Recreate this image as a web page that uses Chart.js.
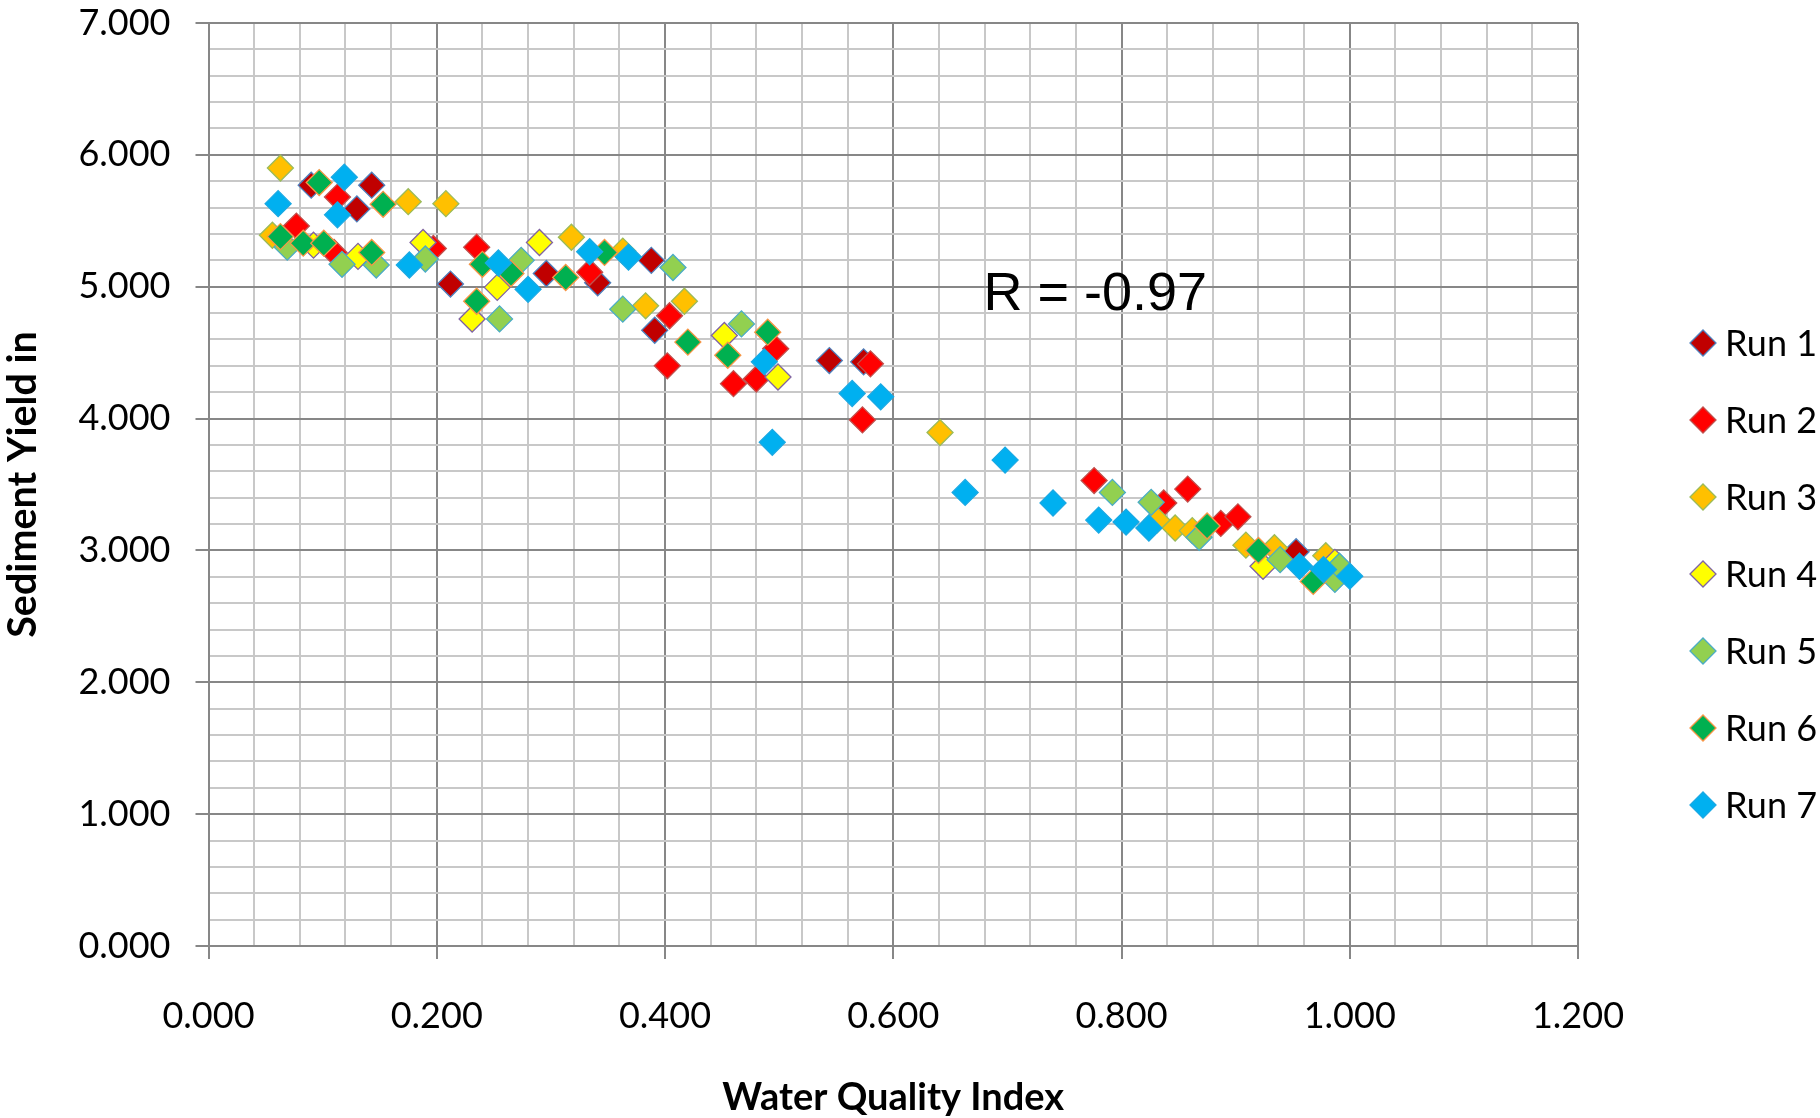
<!DOCTYPE html>
<html>
<head>
<meta charset="utf-8">
<title>Sediment Yield vs Water Quality Index</title>
<script src="https://cdn.jsdelivr.net/npm/chart.js@4.4.1/dist/chart.umd.min.js"></script>
<style>
  html, body { margin: 0; padding: 0; background: #ffffff; }
  #wrap { width: 1820px; height: 1118px; }
</style>
</head>
<body>
<div id="wrap"><canvas id="chart" width="1820" height="1118"></canvas></div>
<script>
// Series names
const runNames = ['Run 1', 'Run 2', 'Run 3', 'Run 4', 'Run 5', 'Run 6', 'Run 7'];

// Water Quality Index (x) and Sediment Yield (y) per run
const run1X = [0.090, 0.130, 0.143, 0.212, 0.296, 0.341, 0.388, 0.391, 0.544, 0.574, 0.953];
const run1Y = [5.77, 5.59, 5.77, 5.02, 5.10, 5.03, 5.20, 4.67, 4.44, 4.43, 2.99];

const run2X = [0.077, 0.110, 0.113, 0.197, 0.235, 0.334, 0.402, 0.404, 0.460, 0.480, 0.497, 0.573, 0.580, 0.776, 0.837, 0.858, 0.887, 0.902];
const run2Y = [5.46, 5.26, 5.68, 5.29, 5.30, 5.11, 4.40, 4.78, 4.265, 4.30, 4.53, 3.99, 4.415, 3.53, 3.36, 3.465, 3.205, 3.255];

const run3X = [0.056, 0.063, 0.175, 0.208, 0.318, 0.363, 0.383, 0.417, 0.641, 0.831, 0.847, 0.862, 0.909, 0.934, 0.979];
const run3Y = [5.39, 5.90, 5.645, 5.63, 5.375, 5.27, 4.855, 4.89, 3.894, 3.23, 3.17, 3.15, 3.04, 3.02, 2.96];

const run4X = [0.092, 0.131, 0.188, 0.231, 0.253, 0.290, 0.452, 0.499, 0.924, 0.987];
const run4Y = [5.315, 5.23, 5.335, 4.755, 4.995, 5.335, 4.63, 4.315, 2.88, 2.91];

const run5X = [0.069, 0.117, 0.147, 0.190, 0.255, 0.274, 0.363, 0.407, 0.467, 0.792, 0.826, 0.868, 0.939, 0.987, 0.991];
const run5Y = [5.30, 5.17, 5.165, 5.21, 4.756, 5.20, 4.83, 5.146, 4.718, 3.44, 3.365, 3.10, 2.93, 2.78, 2.88];

const run6X = [0.063, 0.083, 0.097, 0.101, 0.143, 0.153, 0.235, 0.240, 0.265, 0.313, 0.347, 0.420, 0.455, 0.490, 0.875, 0.920, 0.968];
const run6Y = [5.38, 5.33, 5.79, 5.33, 5.26, 5.625, 4.89, 5.17, 5.10, 5.07, 5.26, 4.58, 4.48, 4.655, 3.185, 3.00, 2.765];

const run7X = [0.061, 0.113, 0.119, 0.176, 0.254, 0.280, 0.334, 0.368, 0.487, 0.494, 0.564, 0.589, 0.663, 0.698, 0.740, 0.780, 0.804, 0.824, 0.956, 0.977, 1.000];
const run7Y = [5.63, 5.545, 5.83, 5.165, 5.18, 4.98, 5.265, 5.225, 4.43, 3.82, 4.19, 4.165, 3.44, 3.685, 3.36, 3.23, 3.215, 3.17, 2.88, 2.855, 2.805];

// Axis settings and annotation
const xAxisTitle = 'Water Quality Index';
const yAxisTitle = 'Sediment Yield in';
const xMin = 0, xMax = 1.2, xMinorStep = 0.04, xMajorStep = 0.2;
const yMin = 0, yMax = 7, yMinorStep = 0.2, yMajorStep = 1;
const correlationText = 'R = -0.97';
const correlationAt = { x: 0.679, y: 4.82 };

// Marker styling
const fillColors = ['#C00000', '#FF0000', '#FFC000', '#FFFF00', '#92D050', '#00B050', '#00B0F0'];
const edgeColors = ['#4F81BD', '#C0504D', '#9BBB59', '#8064A2', '#4BACC6', '#F79646', '#1AA9E4'];

const xs = [run1X, run2X, run3X, run4X, run5X, run6X, run7X];
const ys = [run1Y, run2Y, run3Y, run4Y, run5Y, run6Y, run7Y];

const MAJOR = '#878787';
const MINOR = '#c8c8c8';
const isMultiple = (v, step) => Math.abs(v / step - Math.round(v / step)) < 1e-6;

const datasets = runNames.map((name, i) => ({
  label: name,
  data: xs[i].map((x, k) => ({ x: x, y: ys[i][k] })),
  backgroundColor: fillColors[i],
  borderColor: edgeColors[i],
  borderWidth: 1.3,
  pointStyle: 'rectRot',
  pointRadius: 13,
  pointHoverRadius: 13,
  // later runs are painted over earlier ones
  order: runNames.length - i
}));

// Legend column at the right edge
const sideLegend = {
  id: 'sideLegend',
  afterDraw(chart) {
    const ctx = chart.ctx;
    ctx.save();
    chart.data.datasets.forEach((ds, i) => {
      const cy = 343 + i * 77;
      ctx.fillStyle = ds.backgroundColor;
      ctx.strokeStyle = ds.borderColor;
      ctx.lineWidth = 1.3;
      Chart.helpers.drawPoint(ctx, { pointStyle: 'rectRot', radius: 13, rotation: 0, borderWidth: 1.3 }, 1703, cy);
      ctx.fillStyle = '#000000';
      ctx.font = '36px Lato';
      ctx.textAlign = 'left';
      ctx.textBaseline = 'middle';
      ctx.fillText(ds.label, 1725, cy + 1);
    });
    ctx.restore();
  }
};

// Correlation note placed in data coordinates
const correlationNote = {
  id: 'correlationNote',
  afterDatasetsDraw(chart) {
    const ctx = chart.ctx;
    const px = chart.scales.x.getPixelForValue(correlationAt.x);
    const py = chart.scales.y.getPixelForValue(correlationAt.y);
    ctx.save();
    ctx.fillStyle = '#000000';
    ctx.font = '54px "Liberation Sans", Arial, sans-serif';
    ctx.textAlign = 'left';
    ctx.textBaseline = 'alphabetic';
    ctx.fillText(correlationText, px, py);
    ctx.restore();
  }
};

Chart.defaults.font.family = 'Lato';
Chart.defaults.color = '#000000';

new Chart(document.getElementById('chart'), {
  type: 'scatter',
  data: { datasets: datasets },
  plugins: [sideLegend, correlationNote],
  options: {
    responsive: false,
    animation: false,
    devicePixelRatio: 1,
    layout: { padding: { left: 0, right: 242, top: 23, bottom: 0 } },
    plugins: {
      legend: { display: false },
      tooltip: { enabled: false }
    },
    scales: {
      x: {
        type: 'linear',
        min: xMin,
        max: xMax,
        afterFit(scale) { scale.height = 172; },
        ticks: {
          stepSize: xMinorStep,
          autoSkip: false,
          maxRotation: 0,
          minRotation: 0,
          padding: 36,
          font: { size: 36 },
          color: '#000000',
          callback: (v) => isMultiple(v, xMajorStep) ? Number(v).toFixed(3) : ''
        },
        grid: {
          lineWidth: 2,
          tickLength: 13,
          color: (c) => isMultiple(c.tick.value, xMajorStep) ? MAJOR : MINOR,
          tickColor: (c) => isMultiple(c.tick.value, xMajorStep) ? MAJOR : 'rgba(0,0,0,0)'
        },
        border: { color: MAJOR, width: 2 },
        title: {
          display: true,
          text: xAxisTitle,
          font: { size: 38, weight: 'bold' },
          color: '#000000',
          padding: { top: 0, bottom: -3 }
        }
      },
      y: {
        type: 'linear',
        min: yMin,
        max: yMax,
        afterFit(scale) {
          scale.width = 208.5;
          // the top label may overhang the plot edge
          scale.paddingTop = 0;
        },
        ticks: {
          stepSize: yMinorStep,
          autoSkip: false,
          padding: 25,
          font: { size: 36 },
          color: '#000000',
          callback: (v) => isMultiple(v, yMajorStep) ? Number(v).toFixed(3) : ''
        },
        grid: {
          lineWidth: 2,
          tickLength: 13,
          color: (c) => isMultiple(c.tick.value, yMajorStep) ? MAJOR : MINOR,
          tickColor: (c) => isMultiple(c.tick.value, yMajorStep) ? MAJOR : 'rgba(0,0,0,0)'
        },
        border: { color: MAJOR, width: 2 },
        title: {
          display: true,
          text: yAxisTitle,
          font: { size: 39.5, weight: 'bold' },
          color: '#000000',
          padding: { top: 0, bottom: 0 }
        }
      }
    }
  }
});
</script>
</body>
</html>
